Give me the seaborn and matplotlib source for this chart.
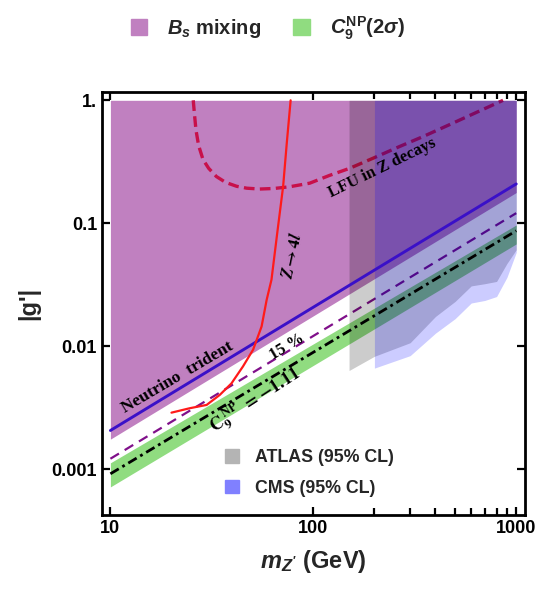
import matplotlib
matplotlib.use('Agg')
import matplotlib.pyplot as plt
from matplotlib.patches import Patch
from matplotlib.ticker import FixedLocator, FixedFormatter, NullLocator
import numpy as np
import pandas as pd
import seaborn as sns

sns.set_theme(style='ticks')
plt.rcParams['font.family'] = ['Liberation Sans', 'DejaVu Sans']
plt.rcParams['font.weight'] = 'bold'
plt.rcParams['mathtext.fontset'] = 'custom'
plt.rcParams['mathtext.rm'] = 'Liberation Sans:bold'
plt.rcParams['mathtext.it'] = 'Liberation Sans:bold:italic'
plt.rcParams['mathtext.bf'] = 'Liberation Sans:bold'

# straight bounds, given at m = 10 and m = 1000 GeV
line_mass = [10, 1000]
trident_g = [0.00207, 0.209]
bs_lower_g = [0.00176, 0.178]
bs_upper_g = [1.0, 1.0]
rk15_g = [0.00122, 0.121]
c9_g = [0.00092, 0.087]
c9_hi_g = [0.00113, 0.097]
c9_lo_g = [0.00072, 0.068]

# LFU in Z decays (dashed)
lfu_mass = [25.6, 26.0, 26.4, 27.2, 28.6, 30.5, 33.3, 37.0, 41.9, 47.0, 54.5,
            64.0, 76.0, 96.0, 120.0, 151.0, 200.0, 266.0, 350.0, 470.0, 650.0, 861.0]
lfu_g = [1.0, 0.75, 0.575, 0.43, 0.33, 0.28, 0.24, 0.215, 0.20, 0.193, 0.19,
         0.192, 0.198, 0.212, 0.245, 0.28, 0.342, 0.421, 0.51, 0.635, 0.81, 1.0]

# Z -> 4l
z4l_mass = [77.3, 74.0, 71.0, 66.5, 62.2, 58.9, 55.6, 50.5, 45.0, 39.5, 34.6, 29.8, 24.6, 20.0]
z4l_g = [1.0, 0.45, 0.2, 0.085, 0.0348, 0.0239, 0.0145, 0.0094, 0.00686, 0.0050,
         0.00403, 0.00334, 0.00314, 0.00289]

# direct searches, lower edge of excluded region
atlas_mass = [150, 200, 300, 400, 500, 600, 700, 800, 900, 1000]
atlas_g = [0.00636, 0.0083, 0.0107, 0.0175, 0.0232, 0.031, 0.0323, 0.0337, 0.0472, 0.061]
cms_mass = [200, 300, 400, 500, 600, 700, 800, 900, 1000]
cms_g = [0.00665, 0.0084, 0.0128, 0.0168, 0.0225, 0.0236, 0.0254, 0.0364, 0.058]

purple = '#C080C0'
green = '#90DC80'

fig = plt.figure(figsize=(5.42, 5.96), dpi=100)
ax = fig.add_axes([0.188, 0.136, 0.781, 0.709])

# filled regions
ax.fill_between(line_mass, bs_lower_g, bs_upper_g, color=purple, lw=0, zorder=1)
ax.fill_between(line_mass, c9_lo_g, c9_hi_g, color=green, lw=0, zorder=1.2)
ax.fill_between(atlas_mass, atlas_g, [1.0] * len(atlas_mass), color='black', alpha=0.2, lw=0, zorder=2)
ax.fill_between(cms_mass, cms_g, [1.0] * len(cms_mass), color='#0000FF', alpha=0.2, lw=0, zorder=2)

# lines
sns.lineplot(x=lfu_mass, y=lfu_g, ax=ax, sort=False, estimator=None, color='#C8104A',
             lw=2.4, linestyle=(0, (3.2, 1.6)), zorder=1.8)
sns.lineplot(x=line_mass, y=rk15_g, ax=ax, sort=False, estimator=None, color='#80108A',
             lw=1.6, linestyle=(0, (4.5, 3)), zorder=1.8)
sns.lineplot(x=line_mass, y=trident_g, ax=ax, sort=False, estimator=None, color='#3A10C8',
             lw=2.1, zorder=3)
sns.lineplot(x=line_mass, y=c9_g, ax=ax, sort=False, estimator=None, color='black',
             lw=2.0, linestyle=(0, (3.5, 1.5, 1, 1.5)), zorder=3)
sns.lineplot(x=z4l_mass, y=z4l_g, ax=ax, sort=False, estimator=None, color='#FF1A1A',
             lw=1.6, zorder=3)

ax.set_xscale('log')
ax.set_yscale('log')
ax.set_xlim(9.08, 1107)
ax.set_ylim(4.26e-4, 1.16)

ax.xaxis.set_major_locator(FixedLocator([10, 100, 1000]))
ax.xaxis.set_major_formatter(FixedFormatter(['10', '100', '1000']))
ax.xaxis.set_minor_locator(FixedLocator([200, 300, 400, 500, 600, 700, 800, 900]))
ax.yaxis.set_major_locator(FixedLocator([1, 0.1, 0.01, 0.001]))
ax.yaxis.set_major_formatter(FixedFormatter(['1.', '0.1', '0.01', '0.001']))
ax.yaxis.set_minor_locator(NullLocator())
ax.tick_params(which='both', direction='in', top=True, right=True, width=1.6,
               labelsize=13, colors='black')
ax.tick_params(which='major', length=6)
ax.tick_params(which='minor', length=5)
for s in ax.spines.values():
    s.set_linewidth(2.0)
    s.set_color('black')

ax.set_xlabel(r"$m_{Z'}$ (GeV)", fontsize=17, fontweight='bold', labelpad=8)
ax.set_ylabel("|g'|", fontsize=17, fontweight='bold', labelpad=8)

# in-plot labels
serif = dict(family=['Liberation Serif', 'DejaVu Serif'], fontweight='bold', color='black')
ax.text(21.5, 0.0056, 'Neutrino  trident', rotation=30.5, ha='center', va='center',
        fontsize=12.5, zorder=4, **serif)
ax.text(218, 0.28, 'LFU in Z decays', rotation=26, ha='center', va='center',
        fontsize=12, zorder=4, **serif)
ax.text(78, 0.055, r'$Z\rightarrow 4l$', rotation=78, ha='center', va='center', fontsize=12,
        math_fontfamily='stix', color='black', zorder=4)
ax.text(73.8, 0.0099, '15 %', rotation=31, ha='center', va='center', fontsize=12,
        zorder=4, **serif)
ax.text(52, 0.0036, r'$\mathbf{C_9^{\ NP}\ =-1.11}$', rotation=33, ha='center', va='center',
        fontsize=13, math_fontfamily='stix', color='black', zorder=4)

# legends
top_handles = [Patch(color=purple), Patch(color=green)]
fig.legend(top_handles, [r'$B_s$ mixing', r'$C_9^{\mathrm{NP}}(2\sigma)$'], loc='center',
           bbox_to_anchor=(0.494, 0.953), ncol=2, frameon=False, fontsize=14.5,
           handlelength=0.8, handleheight=0.8, handletextpad=1.0, columnspacing=1.6)

bot_handles = [Patch(color='#B4B4B4'), Patch(color='#8080FF')]
ax.legend(bot_handles, ['ATLAS (95% CL)', 'CMS (95% CL)'], loc='upper left',
          bbox_to_anchor=(0.29, 0.156), frameon=False, fontsize=12.8, borderpad=0,
          borderaxespad=0, handlelength=0.8, handleheight=0.8, handletextpad=0.9,
          labelspacing=0.77)

fig.savefig('out.png', dpi=100)
